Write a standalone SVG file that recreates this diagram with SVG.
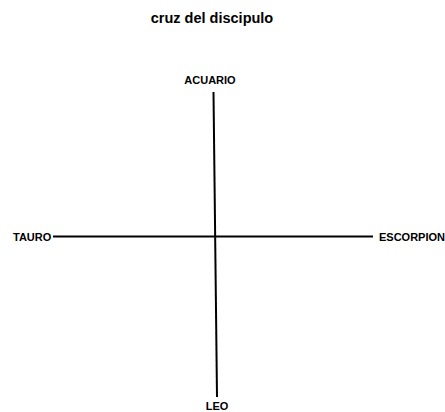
<svg xmlns="http://www.w3.org/2000/svg" width="445" height="412" viewBox="0 0 445 412">
<style>
.lbl{font-family:"Liberation Sans",Arial,sans-serif;font-weight:bold;font-size:11px;fill:#000;}
.title{font-family:"Liberation Sans",Arial,sans-serif;font-weight:bold;font-size:14.5px;fill:#000;}
.ln{stroke:#000;stroke-width:2;fill:none;}
</style>
<rect width="445" height="412" fill="#fff"/>
<text class="title" x="212" y="23" text-anchor="middle">cruz del discipulo</text>
<g id="connectors">
<line class="ln" x1="213.5" y1="92" x2="217" y2="397"/>
<line class="ln" x1="53" y1="236.5" x2="373" y2="236.5"/>
</g>
<g id="acuario"><text class="lbl" x="210" y="84" text-anchor="middle">ACUARIO</text></g>
<g id="tauro"><text class="lbl" x="13" y="240.5">TAURO</text></g>
<g id="escorpion"><text class="lbl" x="379" y="240.5">ESCORPION</text></g>
<g id="leo"><text class="lbl" x="217" y="410" text-anchor="middle">LEO</text></g>
</svg>
